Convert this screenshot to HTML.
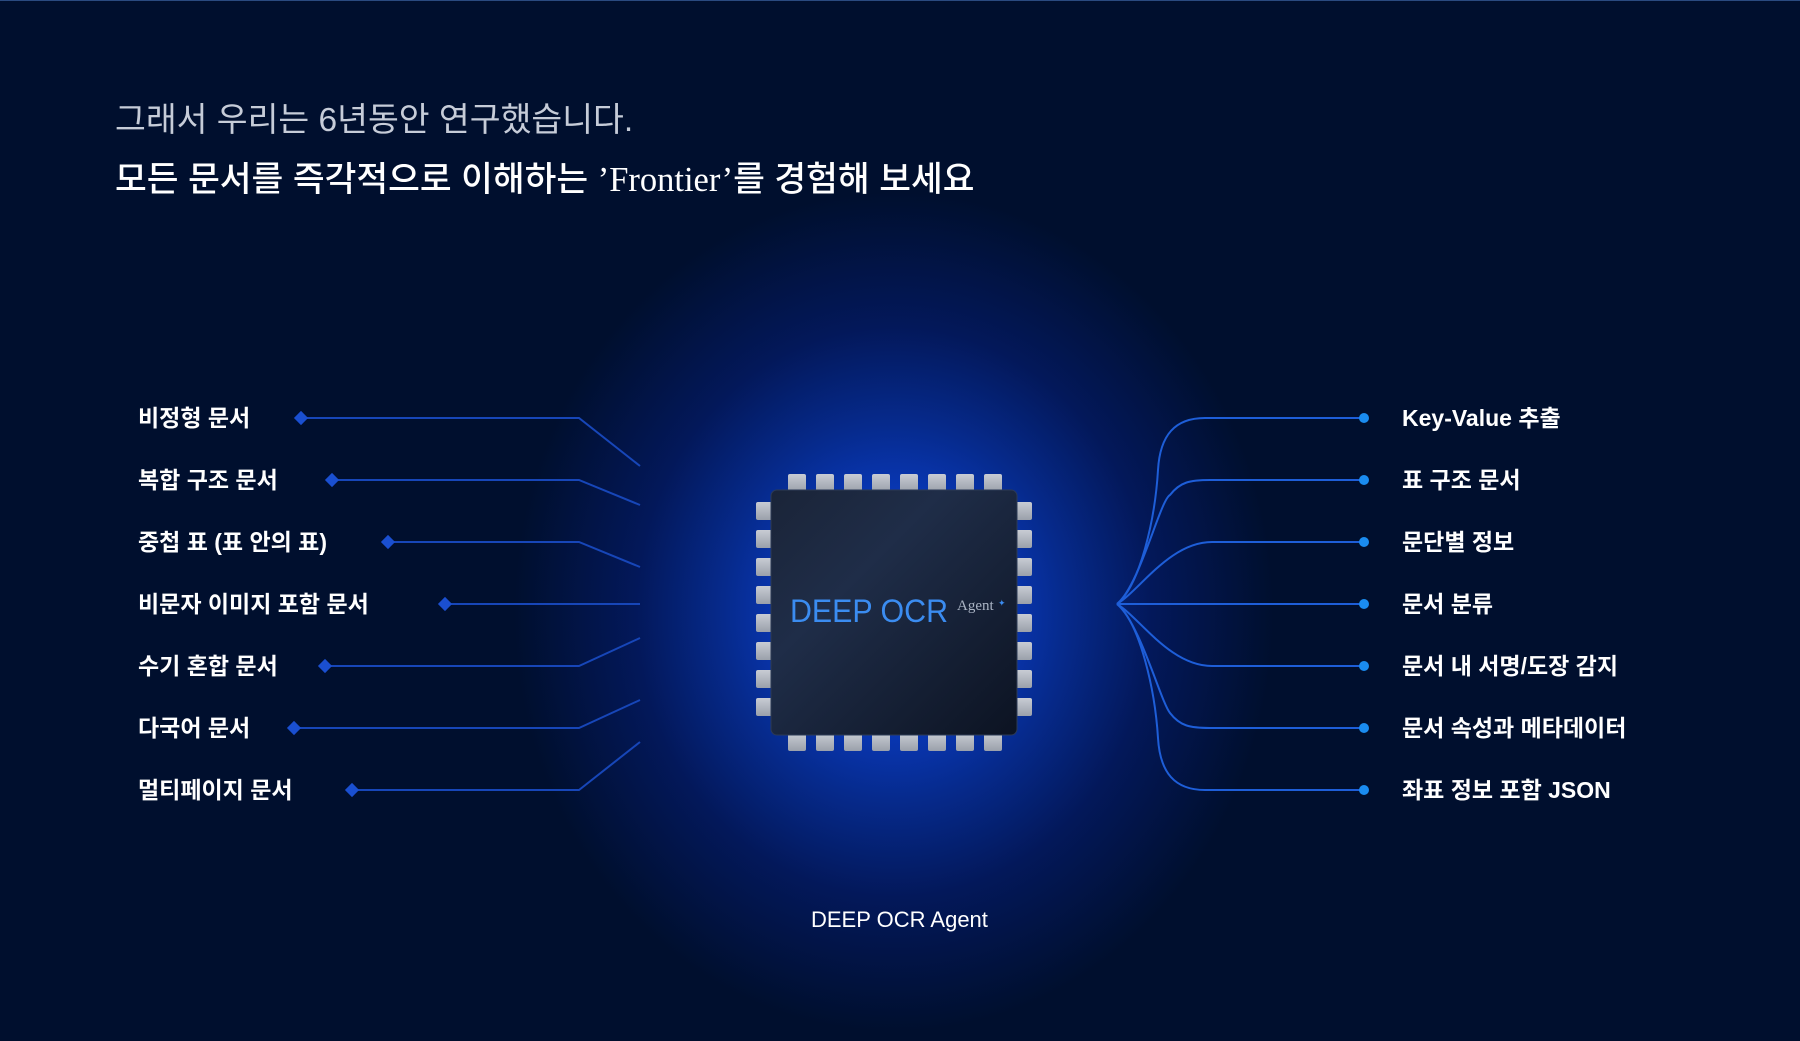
<!DOCTYPE html>
<html><head><meta charset="utf-8"><style>
html,body{margin:0;padding:0;width:1800px;height:1041px;overflow:hidden;background:#000f2e;}
body{position:relative;font-family:"Liberation Sans","Noto Sans CJK KR",sans-serif;}
.glow{position:absolute;left:0;top:0;width:1800px;height:1041px;
background:radial-gradient(ellipse 380px 420px at 894px 612px,#0a47e0 0%,#0a3cc4 22%,#062a8c 45%,#03185a 68%,rgba(0,15,46,0) 100%);}
.t{position:absolute;white-space:nowrap;}
.h1{left:115px;top:92px;font-size:33.5px;color:#c6ccd8;}
.h2{left:115px;top:151px;font-size:34.5px;color:#fff;font-weight:500;}
.l{font-size:23px;color:#fff;font-weight:600;line-height:30px;}
</style></head><body>
<div class="glow"></div>
<div style="position:absolute;left:0;top:0;width:1800px;height:1px;background:#2a4a80"></div>
<div class="t h1">그래서 우리는 6년동안 연구했습니다.</div>
<div class="t h2">모든 문서를 즉각적으로 이해하는 <span style="font-family:'Liberation Serif','Noto Serif CJK SC',serif">’Frontier’</span>를 경험해 보세요</div>

<svg width="1800" height="1041" style="position:absolute;left:0;top:0">
<defs>
<linearGradient id="body" x1="0" y1="0" x2="1" y2="1">
<stop offset="0" stop-color="#1a2438"/><stop offset="0.35" stop-color="#1f2d48"/><stop offset="1" stop-color="#0c1322"/>
</linearGradient>
<linearGradient id="pin" x1="0" y1="0" x2="0" y2="1"><stop offset="0" stop-color="#c8ccd4"/><stop offset="1" stop-color="#9aa0aa"/></linearGradient>
</defs>
<g stroke="#1746b8" stroke-width="2" fill="none">
<polyline points="301,418 579,418 640,466"/>
<polyline points="332,480 579,480 640,505"/>
<polyline points="388,542 579,542 640,567"/>
<polyline points="445,604 640,604"/>
<polyline points="325,666 579,666 640,638"/>
<polyline points="294,728 579,728 640,700"/>
<polyline points="352,790 579,790 640,742"/>
</g>
<g fill="#1a4fd0">
<rect x="296" y="413" width="10" height="10" transform="rotate(45 301 418)"/>
<rect x="327" y="475" width="10" height="10" transform="rotate(45 332 480)"/>
<rect x="383" y="537" width="10" height="10" transform="rotate(45 388 542)"/>
<rect x="440" y="599" width="10" height="10" transform="rotate(45 445 604)"/>
<rect x="320" y="661" width="10" height="10" transform="rotate(45 325 666)"/>
<rect x="289" y="723" width="10" height="10" transform="rotate(45 294 728)"/>
<rect x="347" y="785" width="10" height="10" transform="rotate(45 352 790)"/>
</g>
<g stroke="#1e5ed8" stroke-width="2" fill="none">
<path d="M1117,604 C1140,585 1155,520 1158,470 C1160,435 1175,418 1205,418 L1364,418"/>
<path d="M1117,604 C1140,585 1160,500 1170,495 C1180,482 1190,480 1210,480 L1364,480"/>
<path d="M1117,604 C1140,590 1170,542 1212,542 L1364,542"/>
<path d="M1117,604 L1364,604"/>
<path d="M1117,604 C1140,618 1170,666 1212,666 L1364,666"/>
<path d="M1117,604 C1140,623 1160,700 1170,713 C1180,726 1190,728 1210,728 L1364,728"/>
<path d="M1117,604 C1140,623 1155,690 1158,738 C1160,773 1175,790 1205,790 L1364,790"/>
</g>
<g fill="#1a8cf0">
<circle cx="1364" cy="418" r="5"/><circle cx="1364" cy="480" r="5"/><circle cx="1364" cy="542" r="5"/>
<circle cx="1364" cy="604" r="5"/><circle cx="1364" cy="666" r="5"/><circle cx="1364" cy="728" r="5"/><circle cx="1364" cy="790" r="5"/>
</g>
<g fill="url(#pin)">
<rect x="788" y="474" width="18" height="18" rx="2"/><rect x="816" y="474" width="18" height="18" rx="2"/><rect x="844" y="474" width="18" height="18" rx="2"/><rect x="872" y="474" width="18" height="18" rx="2"/><rect x="900" y="474" width="18" height="18" rx="2"/><rect x="928" y="474" width="18" height="18" rx="2"/><rect x="956" y="474" width="18" height="18" rx="2"/><rect x="984" y="474" width="18" height="18" rx="2"/>
<rect x="788" y="733" width="18" height="18" rx="2"/><rect x="816" y="733" width="18" height="18" rx="2"/><rect x="844" y="733" width="18" height="18" rx="2"/><rect x="872" y="733" width="18" height="18" rx="2"/><rect x="900" y="733" width="18" height="18" rx="2"/><rect x="928" y="733" width="18" height="18" rx="2"/><rect x="956" y="733" width="18" height="18" rx="2"/><rect x="984" y="733" width="18" height="18" rx="2"/>
<rect x="756" y="502" width="18" height="18" rx="2"/><rect x="756" y="530" width="18" height="18" rx="2"/><rect x="756" y="558" width="18" height="18" rx="2"/><rect x="756" y="586" width="18" height="18" rx="2"/><rect x="756" y="614" width="18" height="18" rx="2"/><rect x="756" y="642" width="18" height="18" rx="2"/><rect x="756" y="670" width="18" height="18" rx="2"/><rect x="756" y="698" width="18" height="18" rx="2"/>
<rect x="1014" y="502" width="18" height="18" rx="2"/><rect x="1014" y="530" width="18" height="18" rx="2"/><rect x="1014" y="558" width="18" height="18" rx="2"/><rect x="1014" y="586" width="18" height="18" rx="2"/><rect x="1014" y="614" width="18" height="18" rx="2"/><rect x="1014" y="642" width="18" height="18" rx="2"/><rect x="1014" y="670" width="18" height="18" rx="2"/><rect x="1014" y="698" width="18" height="18" rx="2"/>
</g>
<rect x="771" y="490" width="246" height="245" rx="6" fill="url(#body)" stroke="#2c3a55" stroke-width="1"/>
<text x="790" y="622" font-family="Liberation Sans, sans-serif" font-size="32" textLength="158" lengthAdjust="spacingAndGlyphs" fill="#3b8cf0">DEEP OCR</text>
<text x="957" y="610" font-family="Liberation Serif, serif" font-size="15" fill="#aab4c4">Agent</text>
<text x="998" y="606" font-family="Liberation Sans, sans-serif" font-size="9" fill="#3b8cf0">✦</text>
</svg>

<div class="t l" style="left:138px;top:403px">비정형 문서</div>
<div class="t l" style="left:138px;top:465px">복합 구조 문서</div>
<div class="t l" style="left:138px;top:527px">중첩 표 (표 안의 표)</div>
<div class="t l" style="left:138px;top:589px">비문자 이미지 포함 문서</div>
<div class="t l" style="left:138px;top:651px">수기 혼합 문서</div>
<div class="t l" style="left:138px;top:713px">다국어 문서</div>
<div class="t l" style="left:138px;top:775px">멀티페이지 문서</div>

<div class="t l" style="left:1402px;top:403px">Key-Value 추출</div>
<div class="t l" style="left:1402px;top:465px">표 구조 문서</div>
<div class="t l" style="left:1402px;top:527px">문단별 정보</div>
<div class="t l" style="left:1402px;top:589px">문서 분류</div>
<div class="t l" style="left:1402px;top:651px">문서 내 서명/도장 감지</div>
<div class="t l" style="left:1402px;top:713px">문서 속성과 메타데이터</div>
<div class="t l" style="left:1402px;top:775px">좌표 정보 포함 JSON</div>

<div class="t" style="left:811px;top:907px;font-size:22px;color:#fff;font-weight:500;">DEEP OCR Agent</div>
</body></html>
